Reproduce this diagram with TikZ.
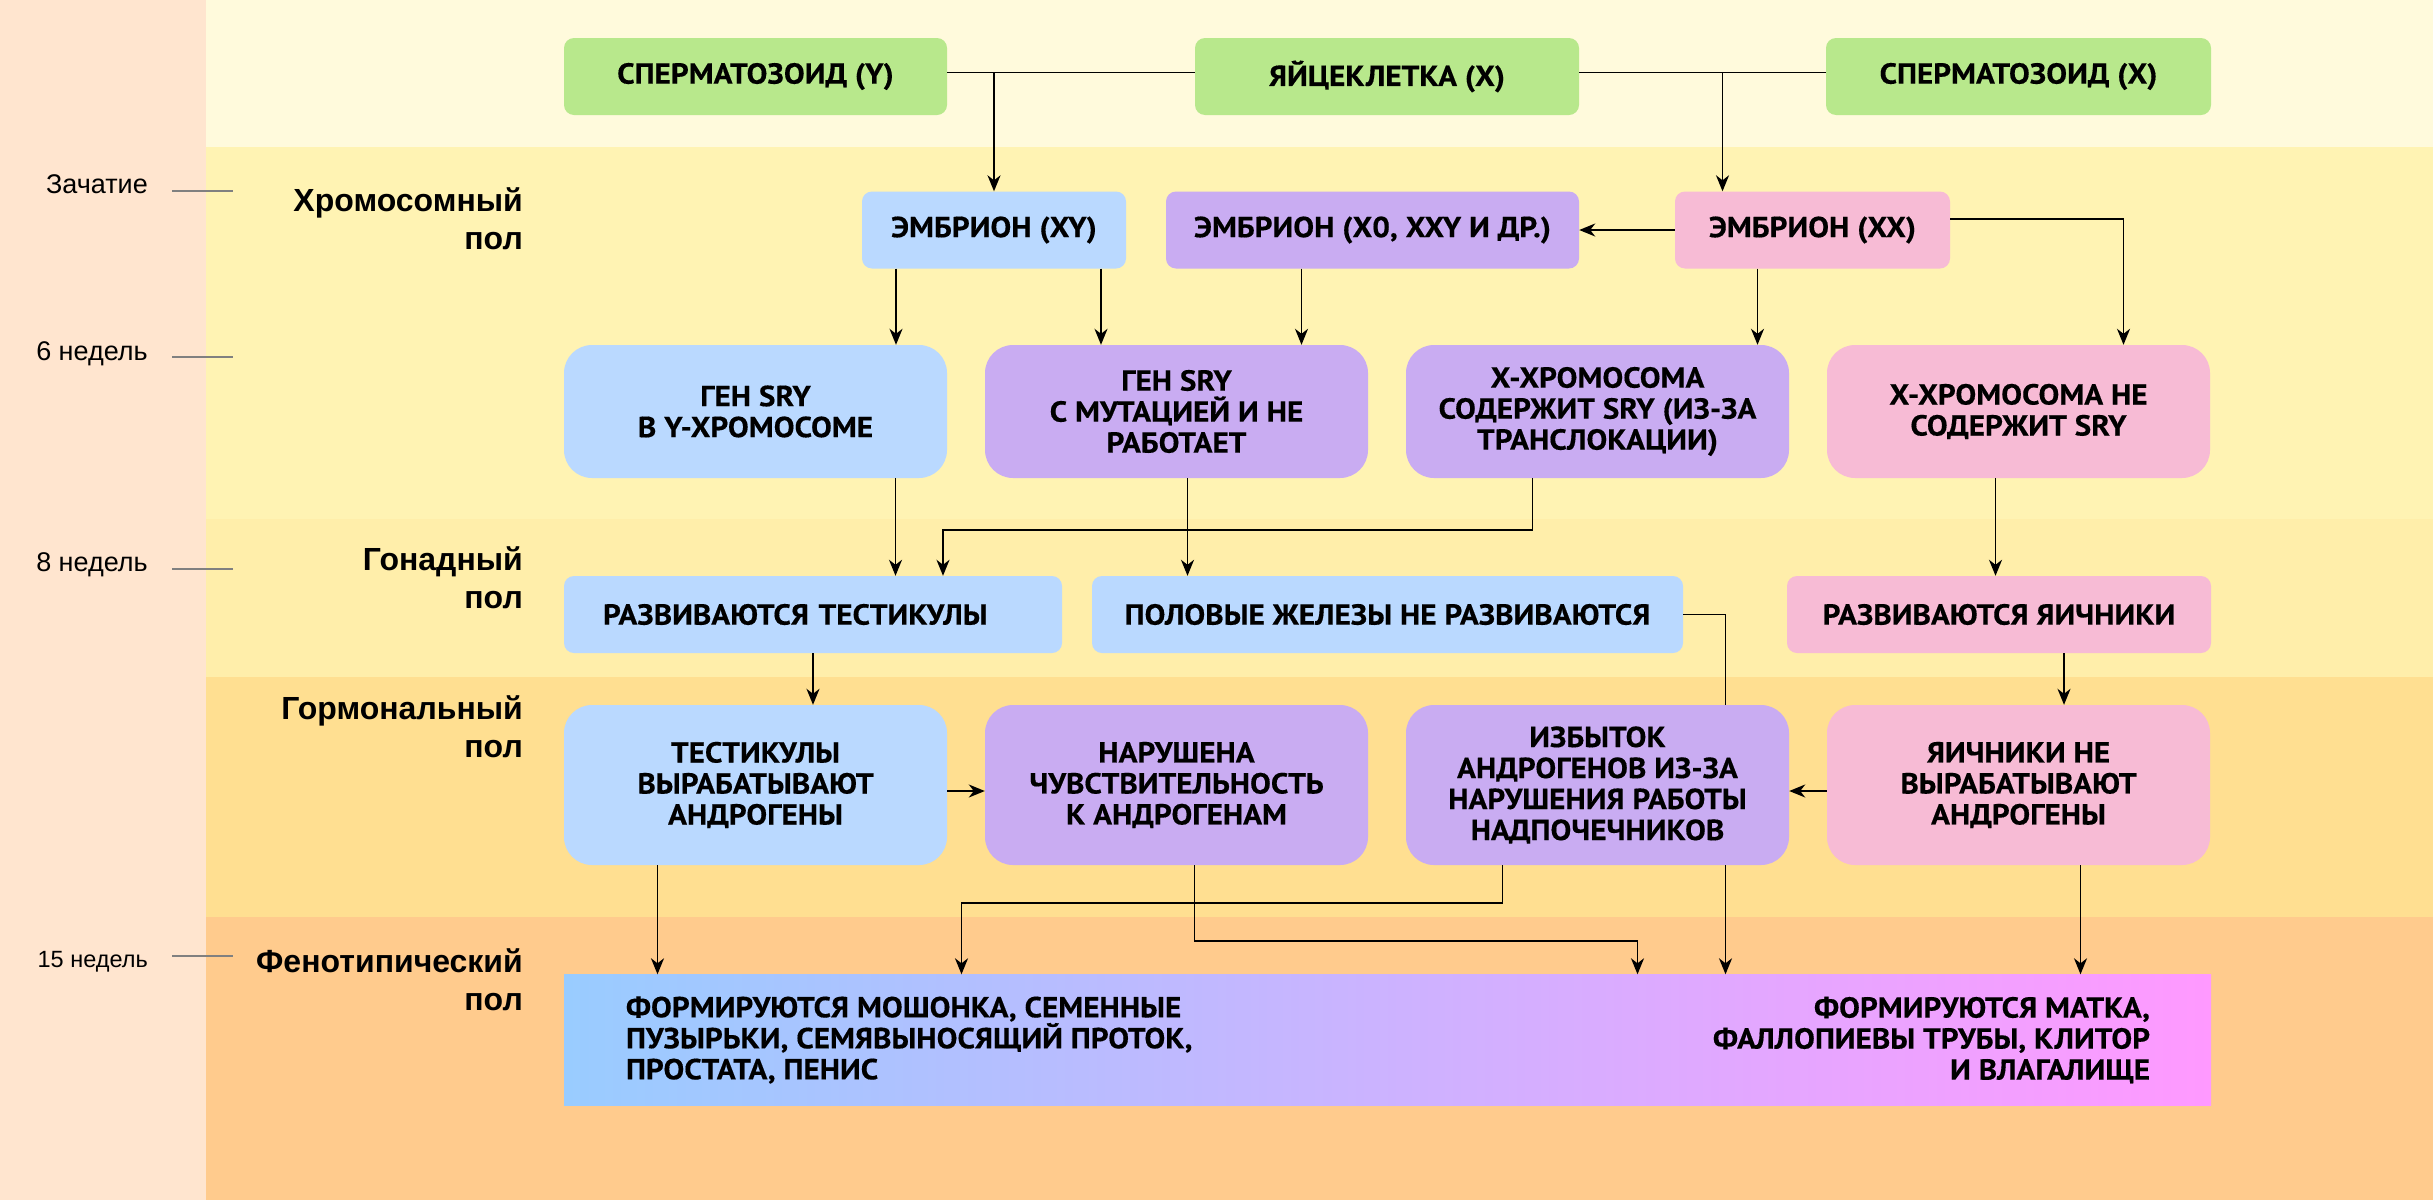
\documentclass[tikz,border=0pt]{standalone}
\usepackage{fontspec}
\setmainfont{PT Sans}[BoldFeatures={FakeStretch=1.075,FakeBold=0.4}]
\newfontfamily\sidefont{Liberation Sans}
\usetikzlibrary{arrows.meta}
\definecolor{stripc}{HTML}{FFE5CF}
\definecolor{bandA}{HTML}{FFFADC}
\definecolor{bandB}{HTML}{FFF3B3}
\definecolor{bandC}{HTML}{FFEEAA}
\definecolor{bandD}{HTML}{FFDF91}
\definecolor{bandE}{HTML}{FFCB8D}
\definecolor{gamc}{HTML}{B8E88C}
\definecolor{malec}{HTML}{BAD9FF}
\definecolor{interc}{HTML}{C9ACF2}
\definecolor{femc}{HTML}{F7BBD5}
\definecolor{phmc}{HTML}{99CCFF}
\definecolor{phfc}{HTML}{FF99FF}

\begin{document}
\begin{tikzpicture}
[x=1pt,y=-1pt,
 txt/.style={inner sep=0pt,font=\bfseries\fontsize{29}{31}\selectfont},
 box/.style={txt,rounded corners=10pt,minimum height=77pt,align=center},
 big/.style={box,rounded corners=28pt,minimum width=383pt},
 side/.style={inner sep=0pt,font=\sidefont},
 sec/.style={inner sep=0pt,align=right,font=\sidefont\bfseries\fontsize{32}{38}\selectfont},
 tick/.style={draw=gray,line width=2pt},
 line/.style={line width=1.8pt},
 arr/.style={line,-{Stealth[length=16pt,width=13pt,inset=5pt]}}]
\useasboundingbox (0,0) rectangle (2433,1200);
% background bands
\fill[stripc] (0,0) rectangle (206,1200);
\foreach \a/\b/\c in {0/147/bandA,147/519/bandB,519/677/bandC,677/917/bandD,917/1200/bandE}
\fill[\c] (206,\a) rectangle (2433,\b);
% time marks
\foreach \t/\b/\k/\s [count=\i] in {Зачатие/193/191/27,6 недель/360/357/27,8 недель/571/569/27,15 недель/967/956/23.5}
{\node[side,anchor=base east] (time\i) at (148,\b) {\fontsize{\s}{\s}\selectfont\t};
\draw[tick] (172,\k) -- (233,\k);}
% levels
\node[sec,anchor=east] (lchrom) at (523,219) {Хромосомный\\пол};
\node[sec,anchor=east] (lgonad) at (523,578) {Гонадный\\пол};
\node[sec,anchor=east] (lhorm) at (523,727) {Гормональный\\пол};
\node[sec,anchor=east] (lpheno) at (523,980) {Фенотипический\\пол};
% gametes
\node[box,fill=gamc,minimum width=383pt] (spy) at (755.5,76.5) {СПЕРМАТОЗОИД (Y)};
\node[box,fill=gamc,minimum width=384pt] (egg) at (1387,76.5) {ЯЙЦЕКЛЕТКА (X)};
\node[box,fill=gamc,minimum width=385pt] (spx) at (2018.5,76.5) {СПЕРМАТОЗОИД (X)};
% embryos
\node[box,fill=malec,minimum width=264pt] (exy) at (994,230) {ЭМБРИОН (XY)};
\node[box,fill=interc,minimum width=413pt] (exo) at (1372.5,230) {ЭМБРИОН (X0, XXY И ДР.)};
\node[box,fill=femc,minimum width=275pt] (exx) at (1812.5,230) {ЭМБРИОН (XX)};
% SRY
\node[big,fill=malec,minimum height=133pt] (sryy) at (755.5,411.5) {ГЕН SRY\\В Y-ХРОМОСОМЕ};
\node[big,fill=interc,minimum height=133pt] (srym) at (1176.5,411.5) {ГЕН SRY\\С МУТАЦИЕЙ И НЕ\\РАБОТАЕТ};
\node[big,fill=interc,minimum height=133pt] (sryt) at (1597.5,411.5) {Х-ХРОМОСОМА\\СОДЕРЖИТ SRY (ИЗ-ЗА\\ТРАНСЛОКАЦИИ)};
\node[big,fill=femc,minimum height=133pt] (sryn) at (2018.5,411.5) {Х-ХРОМОСОМА НЕ\\СОДЕРЖИТ SRY};
% gonads
\node[box,fill=malec,minimum width=498pt,text width=420pt,align=left] (testes) at (813,614.5) {РАЗВИВАЮТСЯ ТЕСТИКУЛЫ};
\node[box,fill=malec,minimum width=591pt] (nogonad) at (1387.5,614.5) {ПОЛОВЫЕ ЖЕЛЕЗЫ НЕ РАЗВИВАЮТСЯ};
\node[box,fill=femc,minimum width=424pt] (ovaries) at (1999,614.5) {РАЗВИВАЮТСЯ ЯИЧНИКИ};
% hormones
\node[big,fill=malec,minimum height=160pt] (andro) at (755.5,785) {ТЕСТИКУЛЫ\\ВЫРАБАТЫВАЮТ\\АНДРОГЕНЫ};
\node[big,fill=interc,minimum height=160pt] (insens) at (1176.5,785) {НАРУШЕНА\\ЧУВСТВИТЕЛЬНОСТЬ\\К АНДРОГЕНАМ};
\node[big,fill=interc,minimum height=160pt] (adrenal) at (1597.5,785) {ИЗБЫТОК\\АНДРОГЕНОВ ИЗ-ЗА\\НАРУШЕНИЯ РАБОТЫ\\НАДПОЧЕЧНИКОВ};
\node[big,fill=femc,minimum height=160pt] (noandro) at (2018.5,785) {ЯИЧНИКИ НЕ\\ВЫРАБАТЫВАЮТ\\АНДРОГЕНЫ};
% phenotype
\node[inner sep=0pt,left color=phmc,right color=phfc,minimum width=1647pt,minimum height=131pt] (pheno) at (1387.5,1040) {};
\node[txt,anchor=west,align=left] (phenom) at ([xshift=62pt]pheno.west) {ФОРМИРУЮТСЯ МОШОНКА, СЕМЕННЫЕ\\ПУЗЫРЬКИ, СЕМЯВЫНОСЯЩИЙ ПРОТОК,\\ПРОСТАТА, ПЕНИС};
\node[txt,anchor=east,align=right] (phenof) at ([xshift=-61pt]pheno.east) {ФОРМИРУЮТСЯ МАТКА,\\ФАЛЛОПИЕВЫ ТРУБЫ, КЛИТОР\\И ВЛАГАЛИЩЕ};
% fertilisation
\draw[line] ([yshift=4pt]spy.east) -- ([yshift=4pt]egg.west);
\draw[line] ([yshift=4pt]egg.east) -- ([yshift=4pt]spx.west);
\draw[arr] ([yshift=4pt]spy.east -| exy.north) -- (exy.north);
\draw[arr] ([yshift=4pt,xshift=-90pt]egg.east -| exx.north) -- ([xshift=-90pt]exx.north);
\draw[arr] (exx) -- (exo);
\draw[arr] ([yshift=11pt]exx.east) -| ([xshift=105pt]sryn.north);
\draw[arr] ([xshift=-98pt]exy.south) -- ([xshift=-98pt]exy.south |- sryy.north);
\draw[arr] ([xshift=107pt]exy.south) -- ([xshift=107pt]exy.south |- srym.north);
\draw[arr] ([xshift=-71pt]exo.south) -- ([xshift=-71pt]exo.south |- srym.north);
\draw[arr] ([xshift=-55pt]exx.south) -- ([xshift=-55pt]exx.south |- sryt.north);
% gonads
\draw[arr] ([xshift=140pt]sryy.south) -- ([xshift=140pt]sryy.south |- testes.north);
\draw[arr] ([xshift=-65pt]sryt.south) -- ++(0,52) -| ([xshift=130pt]testes.north);
\draw[arr] ([xshift=11pt]srym.south) -- ([xshift=11pt]srym.south |- nogonad.north);
\draw[arr] ([xshift=-23pt]sryn.south) -- ([xshift=-23pt]sryn.south |- ovaries.north);
% hormones
\draw[arr] (testes.south) -- (testes.south |- andro.north);
\draw[arr] ([xshift=65pt]ovaries.south) -- ([xshift=65pt]ovaries.south |- noandro.north);
\draw[line] (nogonad.east) -| ([xshift=128pt]adrenal.north);
\draw[arr] ([yshift=-6pt]andro.east) -- ([yshift=-6pt]insens.west);
\draw[arr] ([yshift=-6pt]noandro.west) -- ([yshift=-6pt]adrenal.east);
% phenotype
\draw[arr] ([xshift=-98pt]andro.south) -- ([xshift=-98pt]andro.south |- pheno.north);
\draw[arr] ([xshift=-95pt]adrenal.south) -- ++(0,38) -| ([xshift=-426pt]pheno.north);
\draw[arr] ([xshift=18pt]insens.south) -- ++(0,76) -| ([xshift=250pt]pheno.north);
\draw[arr] ([xshift=128pt]adrenal.south) -- ([xshift=128pt]adrenal.south |- pheno.north);
\draw[arr] ([xshift=62pt]noandro.south) -- ([xshift=62pt]noandro.south |- pheno.north);
\end{tikzpicture}
\end{document}
